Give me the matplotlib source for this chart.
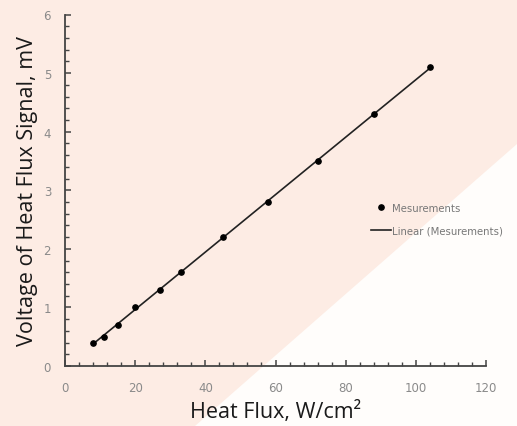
import numpy as np
import matplotlib
matplotlib.use("Agg")
import matplotlib.pyplot as plt
from matplotlib.patches import Polygon
from matplotlib.ticker import MultipleLocator

# measured points
heat_flux = [8, 11, 15, 20, 27, 33, 45, 58, 72, 88, 104]
voltage = [0.4, 0.5, 0.7, 1.0, 1.3, 1.6, 2.2, 2.8, 3.5, 4.3, 5.1]
x_ticks = [0, 20, 40, 60, 80, 100, 120]
y_ticks = [0, 1, 2, 3, 4, 5, 6]

W, H = 517, 427
pink = "#fdece4"

fig = plt.figure(figsize=(W / 100, H / 100), dpi=100)
fig.patch.set_facecolor(pink)

# white diagonal region in the lower right
fig.add_artist(Polygon([(195 / W, 0), (1, 0), (1, 1 - 145 / H)], closed=True,
                       transform=fig.transFigure, facecolor="#fffdfb",
                       edgecolor="none", zorder=0))

ax = fig.add_axes([65 / W, (H - 367) / H, 421 / W, (367 - 15.5) / H])
ax.set_facecolor("none")

ax.plot(heat_flux, voltage, "o", color="black", markersize=3.8, label="Mesurements", zorder=3)

# linear trendline
k, b = np.polyfit(heat_flux, voltage, 1)
xs = np.array([min(heat_flux), max(heat_flux)])
ax.plot(xs, k * xs + b, color="#222222", linewidth=1.2, label="Linear (Mesurements)")

ax.set_xlim(0, 120)
ax.set_ylim(0, 6)
ax.set_xticks(x_ticks)
ax.set_yticks(y_ticks)
ax.xaxis.set_minor_locator(MultipleLocator(4))
ax.yaxis.set_minor_locator(MultipleLocator(0.2))

for s in ["top", "right"]:
    ax.spines[s].set_visible(False)
for s in ["left", "bottom"]:
    ax.spines[s].set_color("#444444")
    ax.spines[s].set_linewidth(1.3)

ax.tick_params(which="major", direction="in", length=4.5, width=1.1, color="#444444",
               labelsize=8.5, labelcolor="#8a8a8a", pad=11)
ax.tick_params(axis="y", which="major", pad=10)
ax.tick_params(which="minor", direction="in", length=3, width=1.0, color="#444444")

ax.set_xlabel("Heat Flux, W/cm²", fontsize=15.5, family=["Open Sans", "DejaVu Sans"],
              color="#1a1a1a", labelpad=4)
ax.set_ylabel("Voltage of Heat Flux Signal, mV", fontsize=15.5, family=["Open Sans", "DejaVu Sans"],
              color="#1a1a1a", labelpad=4)

leg = ax.legend(loc="upper left", bbox_to_anchor=(0.705, 0.49), frameon=False,
                fontsize=7.3, labelcolor="#777777", handlelength=2.0, handletextpad=0.05,
                labelspacing=1.2)

fig.savefig("out.png", dpi=100, facecolor=fig.get_facecolor())
